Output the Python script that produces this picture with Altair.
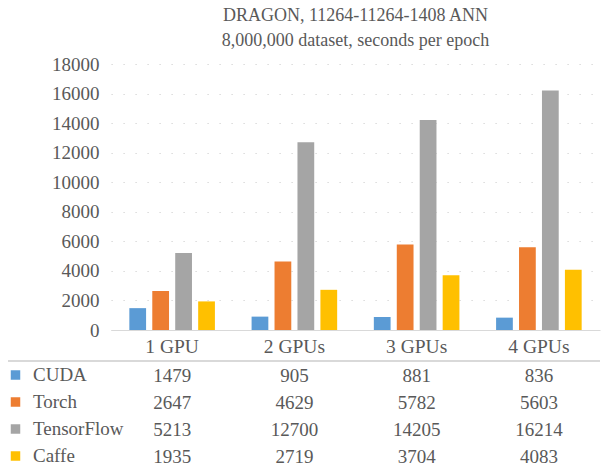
import altair as alt
import pandas as pd

categories = ["1 GPU", "2 GPUs", "3 GPUs", "4 GPUs"]
series = ["CUDA", "Torch", "TensorFlow", "Caffe"]
cuda = [1479, 905, 881, 836]
torch = [2647, 4629, 5782, 5603]
tensorflow = [5213, 12700, 14205, 16214]
caffe = [1935, 2719, 3704, 4083]
colors = ["#5B9BD5", "#ED7D31", "#A5A5A5", "#FFC000"]
title_lines = ["DRAGON, 11264-11264-1408 ANN", "8,000,000 dataset, seconds per epoch"]

rows = []
for s, vals in zip(series, [cuda, torch, tensorflow, caffe]):
    for c, v in zip(categories, vals):
        rows.append({"gpus": c, "framework": s, "seconds": v})
df = pd.DataFrame(rows)

FONT = "'Liberation Serif', 'Times New Roman', serif"
TXT = "#595959"
W, H = 489, 266

xenc = alt.X("gpus:N", sort=categories, title=None,
             scale=alt.Scale(paddingInner=0.3, paddingOuter=0.15),
             axis=alt.Axis(labelAngle=0, labelFontSize=19.5, labelColor=TXT, labelFont=FONT,
                           ticks=False, labelPadding=7, domainColor="#D9D9D9", domainWidth=1))

bars = alt.Chart(df).mark_bar().encode(
    x=xenc,
    xOffset=alt.XOffset("framework:N", sort=series, scale=alt.Scale(paddingInner=0.27)),
    y=alt.Y("seconds:Q", title=None,
            scale=alt.Scale(domain=[0, 18000], nice=False),
            axis=alt.Axis(values=list(range(0, 18001, 2000)), format="d", labelFontSize=19,
                          labelColor=TXT, labelFont=FONT, ticks=False, labelPadding=12,
                          domain=False, grid=True, gridColor="#D0D0D0", gridDash=[1.2, 10.8],
                          gridWidth=1)),
    color=alt.Color("framework:N", sort=series,
                    scale=alt.Scale(domain=series, range=colors),
                    legend=alt.Legend(title=None, orient="none", legendX=-105, legendY=301.5,
                                      direction="vertical", symbolType="square", symbolSize=90,
                                      symbolStrokeWidth=0, labelFontSize=19, labelFont=FONT,
                                      labelColor=TXT, labelOffset=8, rowPadding=7, padding=0)),
)

table = alt.Chart(df).mark_text(fontSize=19, font=FONT, color=TXT, baseline="middle").encode(
    x=alt.X("gpus:N", sort=categories),
    y=alt.Y("framework:N", sort=series, axis=None,
            scale=alt.Scale(domain=series, range=[298.5, 406.5], paddingInner=0, paddingOuter=0)),
    text=alt.Text("seconds:Q", format="d"),
)

sep = alt.Chart(df).mark_rule(color="#D9D9D9", strokeWidth=1.5).encode(
    x=alt.value(-103), x2=alt.value(W), y=alt.value(297)
)

chart = alt.layer(bars, table, sep).resolve_scale(y="independent").properties(
    width=W, height=H,
    title=alt.TitleParams(title_lines, fontSize=18, font=FONT, color=TXT, fontWeight="normal",
                          anchor="middle", offset=5, lineHeight=25),
    autosize=alt.AutoSizeParams(type="none"),
    padding={"left": 111, "top": 64, "right": 2, "bottom": 141},
).configure(font=FONT).configure_view(stroke=None).configure_axis(
    labelFont=FONT).configure_legend(labelFont=FONT).configure_title(font=FONT)

chart.save("out.html", embed_options={"renderer": "svg", "actions": False})
